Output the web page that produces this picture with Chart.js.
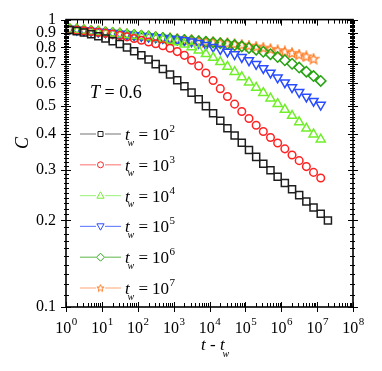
<!DOCTYPE html>
<html>
<head>
<meta charset="utf-8">
<script src="https://cdn.jsdelivr.net/npm/chart.js@4.4.0/dist/chart.umd.min.js"></script>
<style>
  html, body { margin: 0; padding: 0; background: #fff; }
</style>
</head>
<body>
<canvas id="corrChart" width="382" height="371"></canvas>
<script>
// t - t_w values (5 points per decade)
const tMinusTw = [1.26, 2.0, 3.16, 5.01, 7.94, 12.6, 20.0, 31.6, 50.1, 79.4,
  126, 200, 316, 501, 794, 1260, 2000, 3160, 5010, 7940,
  12600, 20000, 31600, 50100, 79400, 126000, 200000, 316000, 501000, 794000,
  1.26e6, 2.0e6, 3.16e6, 5.01e6, 7.94e6, 1.26e7, 2.0e7];

// correlation C for each waiting time
const cTw2 = [0.920, 0.912, 0.902, 0.889, 0.875, 0.859, 0.841, 0.822, 0.800, 0.776,
  0.752, 0.726, 0.700, 0.673, 0.644, 0.615, 0.586, 0.557, 0.528, 0.500,
  0.472, 0.445, 0.419, 0.395, 0.373, 0.352, 0.333, 0.315, 0.299, 0.284,
  0.270, 0.257, 0.245, 0.233, 0.222, 0.211, 0.200];
const cTw3 = [0.922, 0.919, 0.915, 0.910, 0.904, 0.897, 0.890, 0.881, 0.871, 0.860,
  0.848, 0.836, 0.824, 0.811, 0.795, 0.774, 0.751, 0.722, 0.690, 0.652,
  0.614, 0.575, 0.540, 0.508, 0.479, 0.453, 0.429, 0.408, 0.389, 0.372,
  0.355, 0.338, 0.323, 0.308, 0.294, 0.281];
const cTw4 = [0.925, 0.920, 0.915, 0.910, 0.905, 0.900, 0.895, 0.890, 0.885, 0.880,
  0.875, 0.869, 0.862, 0.854, 0.845, 0.834, 0.820, 0.802, 0.782, 0.760,
  0.737, 0.712, 0.686, 0.658, 0.631, 0.605, 0.580, 0.556, 0.532, 0.509,
  0.486, 0.463, 0.440, 0.418, 0.399, 0.383];
const cTw5 = [0.927, 0.922, 0.917, 0.912, 0.907, 0.902, 0.897, 0.892, 0.887, 0.882,
  0.877, 0.872, 0.867, 0.862, 0.857, 0.852, 0.846, 0.838, 0.828, 0.816,
  0.803, 0.789, 0.773, 0.757, 0.740, 0.721, 0.700, 0.677, 0.653, 0.628,
  0.604, 0.581, 0.559, 0.539, 0.521, 0.505];
const cTw6 = [0.928, 0.923, 0.918, 0.913, 0.908, 0.903, 0.898, 0.893, 0.888, 0.883,
  0.878, 0.873, 0.868, 0.863, 0.858, 0.853, 0.849, 0.845, 0.841, 0.837,
  0.833, 0.828, 0.822, 0.815, 0.807, 0.797, 0.786, 0.773, 0.758, 0.741,
  0.722, 0.702, 0.681, 0.659, 0.636, 0.612];
const cTw7 = [0.930, 0.925, 0.920, 0.915, 0.910, 0.905, 0.900, 0.895, 0.890, 0.885,
  0.880, 0.875, 0.870, 0.865, 0.860, 0.855, 0.851, 0.847, 0.843, 0.839,
  0.835, 0.831, 0.827, 0.823, 0.818, 0.812, 0.806, 0.799, 0.791, 0.783,
  0.775, 0.766, 0.756, 0.745, 0.731];

const twExponents = ["2", "3", "4", "5", "6", "7"];
const xTickValues = [1, 10, 100, 1e3, 1e4, 1e5, 1e6, 1e7, 1e8];
const xTickExponents = ["0", "1", "2", "3", "4", "5", "6", "7", "8"];
const yTickValues = [0.1, 0.2, 0.3, 0.4, 0.5, 0.6, 0.7, 0.8, 0.9, 1];

const serif = '"Liberation Serif", "DejaVu Serif", serif';

function makeStar(color) {
  const c = document.createElement("canvas");
  c.width = 12; c.height = 12;
  const g = c.getContext("2d");
  g.beginPath();
  for (let i = 0; i < 10; i++) {
    const r = i % 2 ? 2.3 : 5.2;
    const a = -Math.PI / 2 + i * Math.PI / 5;
    g.lineTo(6 + r * Math.cos(a), 6.4 + r * Math.sin(a));
  }
  g.closePath();
  g.strokeStyle = color;
  g.lineWidth = 1.3;
  g.stroke();
  return c;
}

function makeSmallStar(color) {
  const c = document.createElement("canvas");
  c.width = 9; c.height = 9;
  const g = c.getContext("2d");
  g.beginPath();
  for (let i = 0; i < 10; i++) {
    const r = i % 2 ? 1.6 : 3.8;
    const a = -Math.PI / 2 + i * Math.PI / 5;
    g.lineTo(4.5 + r * Math.cos(a), 4.8 + r * Math.sin(a));
  }
  g.closePath();
  g.strokeStyle = color;
  g.lineWidth = 1;
  g.stroke();
  return c;
}

const series = [
  { c: cTw2, color: "#1e1e1e", legendLine: "#8a8a8a", style: "rect", radius: 5, rot: 0 },
  { c: cTw3, color: "#ff2222", legendLine: "#ff8888", style: "circle", radius: 3.8, rot: 0 },
  { c: cTw4, color: "#70ee2a", legendLine: "#a8f590", style: "triangle", radius: 5.2, rot: 0 },
  { c: cTw5, color: "#2a4cff", legendLine: "#7088ff", style: "triangle", radius: 5.2, rot: 180 },
  { c: cTw6, color: "#27a313", legendLine: "#77c266", style: "rectRot", radius: 5.2, rot: 0 },
  { c: cTw7, color: "#ff7a22", legendLine: "#ffb58a", style: makeStar("#ff7a22"), radius: 5, rot: 0 }
];

const datasets = series.map((s, i) => ({
  label: "tw = 10^" + twExponents[i],
  data: s.c.map((v, k) => ({ x: tMinusTw[k], y: v })),
  showLine: false,
  pointStyle: s.style,
  pointRotation: s.rot,
  pointRadius: s.radius,
  pointBorderWidth: 1.5,
  pointBorderColor: s.color,
  pointBackgroundColor: "rgba(0,0,0,0)"
}));

function legendMarker(ctx, i, x, y) {
  const col = series[i].color;
  ctx.strokeStyle = col;
  ctx.lineWidth = 1;
  ctx.beginPath();
  if (i === 0) {
    ctx.rect(x - 2.5, y - 2.5, 5, 5);
  } else if (i === 1) {
    ctx.arc(x, y, 3, 0, Math.PI * 2);
  } else if (i === 2) {
    ctx.moveTo(x, y - 3.8); ctx.lineTo(x + 3.6, y + 2.6); ctx.lineTo(x - 3.6, y + 2.6); ctx.closePath();
  } else if (i === 3) {
    ctx.moveTo(x, y + 3.8); ctx.lineTo(x + 3.6, y - 2.6); ctx.lineTo(x - 3.6, y - 2.6); ctx.closePath();
  } else if (i === 4) {
    ctx.moveTo(x, y - 4); ctx.lineTo(x + 4, y); ctx.lineTo(x, y + 4); ctx.lineTo(x - 4, y); ctx.closePath();
  }
  if (i === 5) {
    ctx.drawImage(makeSmallStar(col), x - 4.5, y - 4.5);
  } else {
    ctx.stroke();
  }
}

const overlay = {
  id: "overlay",
  afterDraw(chart) {
    const ctx = chart.ctx;
    const a = chart.chartArea;
    const xs = chart.scales.x;
    const ys = chart.scales.y;
    ctx.save();

    // frame
    ctx.strokeStyle = "#000";
    ctx.lineWidth = 1.6;
    ctx.strokeRect(a.left, a.top, a.right - a.left, a.bottom - a.top);

    ctx.lineWidth = 1;
    const seg = (x1, y1, x2, y2) => {
      ctx.beginPath(); ctx.moveTo(x1, y1); ctx.lineTo(x2, y2); ctx.stroke();
    };

    // x ticks
    for (let d = 0; d < 8; d++) {
      for (let m = 2; m <= 9; m++) {
        const px = Math.round(xs.getPixelForValue(m * Math.pow(10, d))) + 0.5;
        seg(px, a.bottom, px, a.bottom - 4);
        seg(px, a.top, px, a.top + 4);
      }
    }
    xTickValues.forEach(v => {
      const px = Math.round(xs.getPixelForValue(v)) + 0.5;
      seg(px, a.bottom - 5, px, a.bottom + 5);
      seg(px, a.top, px, a.top + 6);
    });

    // y ticks
    for (let k = 11; k < 100; k++) {
      if (k % 10 === 0) continue;
      const py = Math.round(ys.getPixelForValue(k / 100)) + 0.5;
      seg(a.left - 2, py, a.left + 3, py);
      seg(a.right + 2, py, a.right - 3, py);
    }
    yTickValues.forEach(v => {
      const py = Math.round(ys.getPixelForValue(v)) + 0.5;
      seg(a.left - 5, py, a.left + 5, py);
      seg(a.right + 5, py, a.right - 5, py);
    });

    // x tick labels 10^n
    ctx.fillStyle = "#000";
    ctx.textBaseline = "alphabetic";
    ctx.textAlign = "left";
    xTickValues.forEach((v, i) => {
      const px = xs.getPixelForValue(v);
      ctx.font = "16px " + serif;
      const w1 = ctx.measureText("10").width;
      ctx.font = "11px " + serif;
      const w2 = ctx.measureText(xTickExponents[i]).width;
      const x0 = px - (w1 + w2) / 2;
      ctx.font = "16px " + serif;
      ctx.fillText("10", x0, 333);
      ctx.font = "11px " + serif;
      ctx.fillText(xTickExponents[i], x0 + w1 + 0.5, 325);
    });

    // x title: t - t_w
    let x = 201;
    ctx.font = "italic 17px " + serif;
    ctx.fillText("t", x, 350);
    x += ctx.measureText("t").width;
    ctx.font = "17px " + serif;
    ctx.fillText(" - ", x, 350);
    x += ctx.measureText(" - ").width;
    ctx.font = "italic 17px " + serif;
    ctx.fillText("t", x, 350);
    x += ctx.measureText("t").width;
    ctx.font = "italic 10px " + serif;
    ctx.fillText("w", x - 2, 357);

    // y title
    ctx.save();
    ctx.translate(28, 143);
    ctx.rotate(-Math.PI / 2);
    ctx.textAlign = "center";
    ctx.font = "italic 18px " + serif;
    ctx.fillText("C", 0, 0);
    ctx.restore();

    // T = 0.6
    ctx.font = "italic 18px " + serif;
    ctx.fillText("T", 90, 98);
    const tw = ctx.measureText("T").width;
    ctx.font = "18px " + serif;
    ctx.fillText(" = 0.6", 90 + tw, 98);

    // legend
    series.forEach((s, i) => {
      const y = 134 + 30.8 * i;
      ctx.strokeStyle = s.legendLine;
      ctx.lineWidth = 1.2;
      seg(80, y, 96, y);
      seg(105, y, 121, y);
      legendMarker(ctx, i, 100.5, y);
      ctx.fillStyle = "#000";
      ctx.font = "italic 17px " + serif;
      ctx.fillText("t", 125, y + 6);
      ctx.font = "italic 10px " + serif;
      ctx.fillText("w", 127.5, y + 11.5);
      ctx.font = "17px " + serif;
      ctx.fillText("=", 138.5, y + 6);
      ctx.fillText("10", 152, y + 6);
      const w10 = ctx.measureText("10").width;
      ctx.font = "11px " + serif;
      ctx.fillText(twExponents[i], 152 + w10 + 0.5, y - 2);
    });

    ctx.restore();
  }
};

const config = {
  type: "scatter",
  data: { datasets: datasets },
  options: {
    responsive: false,
    devicePixelRatio: 1,
    animation: false,
    layout: { padding: { left: 0, right: 29, top: 15, bottom: 0 } },
    plugins: {
      legend: { display: false },
      tooltip: { enabled: false }
    },
    scales: {
      x: {
        type: "logarithmic",
        min: 1,
        max: 1e8,
        grid: { display: false, drawTicks: false },
        border: { display: false },
        ticks: { display: false },
        afterFit: s => { s.height = 64; }
      },
      y: {
        type: "logarithmic",
        min: 0.1,
        max: 1,
        grid: { display: false, drawTicks: false },
        border: { display: false },
        afterBuildTicks: s => { s.ticks = yTickValues.map(v => ({ value: v })); },
        afterFit: s => { s.width = 66; },
        ticks: {
          autoSkip: false,
          padding: 10,
          color: "#000",
          font: { family: serif, size: 16 },
          callback: v => String(v)
        }
      }
    }
  },
  plugins: [overlay]
};

const corrChart = new Chart(document.getElementById("corrChart"), config);
</script>
</body>
</html>
